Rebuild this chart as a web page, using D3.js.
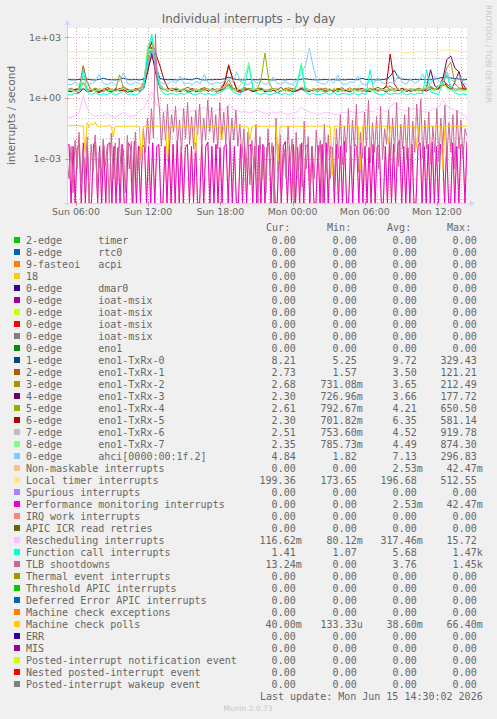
<!DOCTYPE html>
<html><head><meta charset="utf-8">
<script src="https://cdn.jsdelivr.net/npm/d3@7"></script>
<style>
body{margin:0;background:#f0f0f0}
svg{display:block}
text{font-family:"DejaVu Sans",sans-serif;fill:#666}
.mono{font-family:"DejaVu Sans Mono",monospace;font-size:10px;white-space:pre}
</style></head><body><div id="chart"></div>
<script>
// ---------- DATA ----------
const titleText = "Individual interrupts - by day";
const yLabel = "interrupts / second";
const startTime = new Date(2026, 5, 14, 5, 15);
const endTime = new Date(2026, 5, 15, 14, 30);
const yTickValues = [1e3, 1, 1e-3];
const lastUpdate = "Last update: Mon Jun 15 14:30:02 2026";

const legendLabels = [
  "2-edge      timer","8-edge      rtc0","9-fasteoi   acpi","18","0-edge      dmar0",
  "0-edge      ioat-msix","0-edge      ioat-msix","0-edge      ioat-msix","0-edge      ioat-msix","0-edge      eno1",
  "1-edge      eno1-TxRx-0","2-edge      eno1-TxRx-1","3-edge      eno1-TxRx-2","4-edge      eno1-TxRx-3","5-edge      eno1-TxRx-4",
  "6-edge      eno1-TxRx-5","7-edge      eno1-TxRx-6","8-edge      eno1-TxRx-7","0-edge      ahci[0000:00:1f.2]","Non-maskable interrupts",
  "Local timer interrupts","Spurious interrupts","Performance monitoring interrupts","IRQ work interrupts","APIC ICR read retries",
  "Rescheduling interrupts","Function call interrupts","TLB shootdowns","Thermal event interrupts","Threshold APIC interrupts",
  "Deferred Error APIC interrupts","Machine check exceptions","Machine check polls","ERR","MIS",
  "Posted-interrupt notification event","Nested posted-interrupt event","Posted-interrupt wakeup event"];
const legendColors = ["#00CC00","#0066B3","#FF8000","#FFCC00","#330099","#990099","#CCFF00","#FF0000","#808080","#008F00",
  "#00487D","#B35A00","#B38F00","#6B006B","#8FB300","#B30000","#BEBEBE","#80FF80","#80C9FF","#FFC080",
  "#FFE680","#AA80FF","#EE00CC","#FF8080","#666600","#FFBFFF","#00FFCC","#CC6699","#999900","#00CC00",
  "#0066B3","#FF8000","#FFCC00","#330099","#990099","#CCFF00","#FF0000","#808080"];
const curValues = [0,0,0,0,0,0,0,0,0,0,8.21,2.73,2.68,2.30,2.61,2.30,2.51,2.35,4.84,0,199.36,0,0,0,0,0.11662,1.41,0.01324,0,0,0,0,0.04,0,0,0,0,0];
const minValues = [0,0,0,0,0,0,0,0,0,0,5.25,1.57,0.73108,0.72696,0.79267,0.70182,0.75360,0.78573,1.82,0,173.65,0,0,0,0,0.08012,1.07,0,0,0,0,0,0.00013333,0,0,0,0,0];
const avgValues = [0,0,0,0,0,0,0,0,0,0,9.72,3.50,3.65,3.66,4.21,6.35,4.52,4.49,7.13,0.00253,196.68,0,0.00253,0,0,0.31746,5.68,3.76,0,0,0,0,0.0386,0,0,0,0,0];
const maxValues = [0,0,0,0,0,0,0,0,0,0,329.43,121.21,212.49,177.72,650.50,581.14,919.78,874.30,296.83,0.04247,512.55,0,0.04247,0,0,15.72,1470,1450,0,0,0,0,0.0664,0,0,0,0,0];

// series values (evenly spaced over the time range)
const txrx0Values = [8.2,8.0,7.9,8.3,8.1,8.6,8.0,7.8,8.4,9.5,8.2,8.0,7.9,8.3,9.8,8.1,8.0,8.2,7.9,8.5,30,329,40,9.2,8.4,8.0,8.3,7.9,8.1,8.8,8.2,8.0,9.6,8.3,7.8,8.1,8.0,8.4,8.2,9.0,11,9.2,8.1,8.0,7.9,8.3,8.2,8.0,8.1,8.4,8.0,7.8,8.2,8.1,7.9,8.3,8.0,8.2,8.5,9.0,8.3,8.0,7.9,8.1,8.3,8.0,8.2,7.8,8.1,8.0,8.4,8.2,8.0,9.4,8.3,8.1,8.0,7.9,8.2,8.6,12,24,10,8.5,8.2,8.0,8.3,8.1,8.4,8.2,8.0,8.6,9.5,10.5,11,9.8,9.2,8.8,7.9,8.21];
const txrx1Values = [2.5,3.1,2.2,2.8,40,6,2.4,3.0,2.1,2.6,3.3,2.2,2.9,2.4,3.6,2.7,2.2,3.0,2.5,4,30,121,25,4,2.8,2.3,3.1,2.6,2.2,2.9,3.4,2.5,2.1,2.8,3.2,2.4,2.7,2.2,3.0,6,45,8,2.9,2.4,3.3,2.6,2.1,2.8,3.1,2.5,2.3,2.9,2.6,3.4,2.2,2.7,3.0,2.4,2.8,3.2,2.5,2.2,2.9,2.6,3.1,2.3,2.8,2.5,3.3,2.4,2.1,2.9,2.7,3.0,2.5,2.2,2.8,3.4,2.6,3.8,2.4,2.9,2.5,3.1,2.3,2.8,2.6,3.0,2.2,2.7,3.3,2.5,2.9,4,5,3.2,2.6,2.8,3.1,2.73];
const txrx2Values = [2.2,2.9,2.5,3.2,6,2.8,2.3,3.0,2.6,2.1,3.4,2.7,2.4,14,3.0,2.5,2.2,2.8,3.1,5,60,212,30,5,2.6,2.9,2.3,3.2,2.5,2.8,2.2,3.0,2.6,2.4,3.3,2.7,2.1,2.9,2.5,3.6,8,3.2,2.6,2.3,3.0,2.7,2.4,3.1,2.8,2.2,2.6,3.0,2.5,2.3,2.9,3.2,2.6,2.4,3.5,2.7,2.3,2.9,2.5,3.1,2.4,2.8,2.2,3.0,2.6,2.5,3.2,2.3,2.7,2.9,2.4,3.1,2.6,2.2,2.8,3.3,3.8,2.7,2.4,3.0,2.5,2.8,2.3,3.1,2.6,2.9,3.5,2.7,4,6,30,60,5,3.2,2.9,2.68];
const txrx3Values = [2.0,2.6,2.2,1.8,2.9,2.4,2.1,2.7,1.9,2.5,2.3,2.0,2.8,2.2,2.6,1.9,2.4,2.7,2.1,3,20,177,15,3.2,2.5,2.2,2.8,2.0,2.4,2.6,1.9,2.3,2.7,2.1,2.5,2.2,2.8,2.0,2.4,3.0,5,2.6,2.2,1.9,2.5,2.7,2.1,2.3,2.8,2.0,2.4,2.6,1.8,2.2,2.7,2.5,2.0,2.3,2.9,2.4,2.1,2.6,2.2,2.8,2.0,2.4,2.7,2.1,2.5,2.3,2.0,2.6,2.8,2.2,2.4,2.1,2.7,2.3,2.5,2.0,2.6,2.2,2.4,2.9,2.1,2.5,2.3,2.7,2.2,3.5,25,4,3,8,80,120,30,20,5,2.3];
const txrx4Values = [2.4,2.1,2.8,2.5,3,2.2,2.6,2.9,2.3,2.0,2.7,2.4,2.2,2.8,3.5,2.5,2.1,2.6,2.9,4,80,650,20,3.5,2.6,2.3,2.8,2.5,2.1,2.7,2.4,2.9,2.2,2.6,2.3,2.8,2.5,2.0,2.7,3.2,5,3,2.4,2.6,2.2,3,2.8,2.5,8,170,6,2.4,2.8,2.3,2.6,2.2,2.9,2.5,2.7,2.1,2.4,2.8,2.6,2.3,2.0,2.7,2.5,2.9,2.2,2.4,2.6,2.8,2.1,2.5,2.3,2.7,2.4,2.2,2.9,2.6,2.5,2.3,2.8,2.1,2.6,2.4,2.7,2.3,2.5,3.2,4,2.8,2.6,5,3.5,2.9,2.4,2.7,2.5,2.61];
const txrx5Values = [2.3,2.0,2.7,2.4,3,2.1,2.6,2.2,1.8,2.8,2.5,2.1,2.4,2.9,2.2,2.6,2.0,2.5,2.3,6,200,581,150,40,8,3,2.4,2.7,2.1,2.5,2.3,2.8,2.0,2.4,2.6,2.2,2.9,2.3,2.5,5,40,10,2.6,2.2,2.4,2.8,2.1,2.5,2.3,2.7,2.0,2.4,2.6,2.2,2.8,2.1,2.5,2.3,2.9,2.4,2.2,2.6,2.0,2.7,2.3,2.5,2.1,2.8,2.4,2.2,2.6,2.3,2.5,2.9,2.1,2.4,2.7,2.2,2.5,4,150,5,2.6,2.3,2.8,2.1,2.5,2.4,2.7,2.2,2.9,2.6,3,10,4,2.5,6,20,2.8,2.3];
const txrx6Values = [2.5,2.8,2.2,2.6,3.1,2.4,2.7,2.3,2.9,2.5,2.1,2.8,2.4,2.6,3.0,2.3,2.7,2.5,2.2,5,300,919,50,5,2.7,2.4,2.9,2.2,2.6,2.8,2.3,2.5,2.7,2.1,2.9,2.4,2.6,2.3,2.8,3.5,4,2.7,2.4,2.9,2.2,2.6,2.5,2.8,2.3,2.7,2.4,2.6,2.9,2.2,2.5,2.8,2.4,2.6,3.5,2.3,2.7,2.5,2.2,2.9,2.6,2.4,2.8,2.3,2.5,2.7,2.2,2.6,2.9,2.4,2.5,2.8,2.3,2.7,2.4,2.6,3,2.5,2.8,2.2,2.6,2.9,2.4,2.7,2.5,3.2,2.8,2.6,3.5,8,15,4,3,2.7,2.4,2.51];
const txrx7Values = [2.2,2.6,2.0,2.4,5,2.3,2.7,2.1,2.5,2.8,2.2,2.4,2.0,2.6,2.9,2.3,2.5,2.1,2.7,5,400,874,60,4,2.4,2.2,2.7,2.0,2.5,2.3,2.8,2.1,2.6,2.4,2.2,2.9,2.3,2.5,2.0,2.7,3,2.4,2.2,5,12,60,4,2.5,2.3,2.6,2.1,2.8,2.4,2.2,2.6,2.0,2.5,6,55,3,2.3,2.7,2.1,2.4,2.6,2.2,2.8,2.3,2.5,2.0,2.7,2.4,2.2,2.6,2.9,2.3,2.5,2.1,2.7,2.4,2.6,2.2,2.8,2.3,2.5,2.7,2.1,2.4,2.9,3.5,2.6,2.3,4,6,3,2.5,2.7,2.2,2.4,2.35];
const ahciValues = [5,4.5,6,4.2,12,5.5,4.8,6.5,15,5.2,4.6,5.8,4.4,7,18,5,4.7,6.2,4.9,5.5,40,250,30,6,5.1,4.8,7.5,5.3,12,4.9,5.6,4.5,6.8,5.0,15,5.4,4.7,6,5.2,7,9,5.5,20,6.2,5,4.6,8,5.3,6.5,4.8,5.1,11,5.4,4.9,6.3,5,4.7,8.5,16,40,296,30,6,5.2,4.8,9,5.5,14,5.1,4.7,6.2,5.8,12,5.0,4.6,7,5.3,10,5.6,4.9,6,5.2,14,5.8,4.8,9,5.2,6.5,16,5.4,5,12,7,5.5,20,8,6,15,5.2,4.84];
const localTimerValues = [196,198,195,200,199,197,196,198,200,197,199,196,198,197,199,198,197,196,198,200,240,260,215,200,198,197,199,198,196,197,198,200,197,199,198,196,197,199,198,205,218,206,199,197,198,196,198,199,200,197,198,196,197,199,198,196,197,199,210,201,198,197,196,199,198,197,200,198,196,197,199,198,200,197,196,198,197,199,198,196,200,197,199,182,178,184,196,198,197,199,198,196,205,228,245,232,215,208,200,199];
const reschedValues = [.12,.11,.13,.2,1.2,.3,.15,.12,.14,.13,.18,.12,.11,.15,.2,.13,.12,.14,.25,.3,.8,2,.5,.3,.22,.18,.25,.2,.3,.22,.18,.24,.2,.28,.35,.22,.2,.25,.3,.22,.5,.3,.25,.2,.22,.18,.2,.25,.2,.18,.15,.2,.18,.22,.16,.15,.18,.2,.35,.25,.2,.18,.15,.17,.2,.18,.16,.15,.2,.18,.22,.2,.18,.2,.25,.22,.2,.3,.25,.2,.35,.6,.3,.25,.22,.28,.3,.25,.22,.2,.25,.3,.35,.8,.4,.3,.25,.2,.15,.116];
const funcCallValues = [1.5,1.4,1.7,1.6,25,2,1.5,1.8,1.4,1.6,1.5,1.9,1.4,1.7,2.2,1.5,1.6,1.4,1.8,3,200,1470,40,3,1.6,1.5,1.8,1.4,1.7,1.5,1.9,1.6,1.4,1.8,1.5,1.7,1.4,1.6,1.9,2.5,4,2,1.6,1.5,5,40,3,1.7,1.5,1.8,1.4,1.6,1.9,1.5,1.7,1.4,1.8,5,40,2,1.5,1.7,1.4,1.6,1.8,1.5,1.9,1.4,1.7,1.6,1.5,1.8,1.4,1.7,1.5,25,2,1.6,1.4,1.8,1.5,1.7,1.6,1.9,1.4,1.7,1.5,1.8,1.6,25,2,1.7,1.5,6,15,3,1.8,1.5,1.6,1.41];
const perfMonValues = [.004,.005,0,.004,0,.0035,.005,0,.006,0,.004,0,0,.005,.007,0,.004,0,.0045,0,.005,.006,0,.004,0,.0035,0,.005,0,0,.006,.004,0,.007,0,.004,0,.005,.0035,0,.004,0,.006,0,.004,.005,0,0,.004,0,.0045,0,.005,0,.008,0,.004,0,.0035,.005,0,.004,0,.006,0,0,.005,0,.004,.0065,0,.004,0,.005,0,.0035,0,.004,.005,0,.007,0,.004,0,0,.005,0,.006,0,.004,.005,0,.004,0,.0045,0,.005,0,.0035,.006,0,.004,0,0,.005,0,.004,.007,0,.004,0,.005,0,.0035,0,.006,0,.004,.005,0,.004,0,0,.0045,0,.005,0,.006,0,.004,.0035,0,.005,0,.004,0,.007,0,0,.004,0,.005,.004,0,.006,0,.004,0,.0035,0,.005,0,.004,.0045,0,0,.004,0,.006,0,.005,0,.004,.008,0,.004,0,.0035,0,.005,0,0,.004,.006,0,.004,0,.005,0,.0065,0,.004,0,.005,.0035,0,.004,0,0,.006,0,.004,0,.005,.004,0,.007];
const nmiValues = perfMonValues;
const tlbValues = [.001,.0001,.004,.00002,.008,.0003,.02,.00005,.003,.0001,.012,0,.005,.0002,.015,.00003,.002,.0001,.009,.0004,.004,0,.018,.0001,.006,.00005,.01,.0002,.003,.00002,.014,.0003,.007,0,.02,.0001,.004,.0005,.03,
  .002,.1,.005,.3,.01,1450,2,.3,.004,.2,.008,.5,.003,.15,.02,.4,.006,.08,.002,.3,.01,.6,.005,.12,.003,.25,.015,.5,.004,.1,.008,.8,.02,.35,.006,.15,.003,.6,.01,.2,.005,.4,.002,.1,.008,.25,.004,.05,.001,.03,
  .0002,.02,.00005,.008,.0003,.05,0,.012,.0001,.004,.00002,.03,.0004,.006,0,.1,.0002,.015,.00003,.003,.0001,.04,.0005,.009,0,.02,.0001,.005,.00004,.07,.0003,.012,.00002,.004,.0001,.025,.0006,.008,0,.05,.0002,.015,.0001,.003,.00005,.03,
  .001,.15,.0005,.04,.002,.3,.0008,.08,.003,.5,.0002,.02,.001,.2,.004,.8,.0006,.06,.002,.12,.0003,.4,.001,.03,.005,.25,.0008,.1,.002,.6,.0004,.05,.003,.15,.001,.35,.0002,.07,.002,.5,.006,.9,.001,.08,.003,.2,.0005,.04,.002,.3,.0007,.1,.004,.45,.001,.06,.002,.15,.0003,.25,.003,.08,.001,.03,.013];
const mcPollValues = [
  .042,.043,.041,.044,.042,.043,.042,.041,.043,.002,.06,.035,.055,.045,.065,.04,.04,.04,.04,.04,
  .04,.045,.04,.012,.04,.04,.04,.04,.04,.04,.04,.04,.04,.04,.04,.04,.04,.0007,.04,.04,
  .04,.04,.04,.04,.04,.04,.04,.04,.04,.04,.0007,.04,.04,.04,.04,.04,.04,.04,.04,.04,
  .04,.04,.04,.04,.002,.04,.04,.04,.04,.04,.04,.04,.04,.04,.04,.04,.04,.008,.04,.04,
  .04,.04,.04,.04,.04,.04,.04,.04,.04,.04,.04,.008,.04,.04,.04,.04,.04,.04,.04,.04,
  .04,.04,.04,.04,.04,.0007,.04,.04,.04,.04,.04,.04,.04,.04,.04,.04,.04,.04,.03,.04,
  .04,.04,.04,.04,.04,.04,.04,.04,.04,.04,.04,.04,.00016,.04,.04,.04,.04,.04,.04,.04,
  .04,.04,.04,.04,.04,.04,.00027,.04,.04,.04,.04,.04,.04,.04,.04,.04,.04,.04,.04,.04,
  .006,.04,.04,.04,.04,.04,.04,.04,.04,.04,.04,.04,.04,.04,.0034,.04,.04,.04,.04,.04,
  .04,.04,.04,.04,.04,.04,.04,.00027,.04,.04,.04,.04,.04,.04,.04,.04,.04,.04,.04,.04];

// legend index -> values (drawn in legend order; all-zero series omitted)
const seriesValues = {10:txrx0Values,11:txrx1Values,12:txrx2Values,13:txrx3Values,14:txrx4Values,15:txrx5Values,
  16:txrx6Values,17:txrx7Values,18:ahciValues,19:nmiValues,20:localTimerValues,22:perfMonValues,25:reschedValues,
  26:funcCallValues,27:tlbValues,32:mcPollValues};

// ---------- DRAW ----------
const W = 497, H = 719;
const L = 67, R = 467, T = 28, B = 203;
const yMin = Math.pow(10, -5.206), yMax = Math.pow(10, 3.47);
const svg = d3.select("#chart").append("svg").attr("width", W).attr("height", H);
svg.append("rect").attr("width", W).attr("height", H).attr("fill", "#f0f0f0");
svg.append("rect").attr("x", L).attr("y", T).attr("width", R - L).attr("height", B - T).attr("fill", "#fff");

const x = d3.scaleTime().domain([startTime, endTime]).range([L, R]);
const y = d3.scaleLog().domain([yMin, yMax]).range([B, T]).clamp(true);

const gridColor = "rgba(140,140,140,0.55)", mgridColor = "rgba(200,80,80,0.55)";
// horizontal grid
const decades = d3.range(-5, 4).map(e => Math.pow(10, e));
svg.append("g").selectAll("line").data(decades).join("line")
  .attr("x1", L).attr("x2", R).attr("y1", d => Math.round(y(d)) + 0.5).attr("y2", d => Math.round(y(d)) + 0.5)
  .attr("stroke", d => yTickValues.includes(d) ? mgridColor : gridColor)
  .attr("stroke-dasharray", "1,2");
// vertical grid
const hours = d3.timeHour.every(1).range(startTime, endTime);
svg.append("g").selectAll("line").data(hours).join("line")
  .attr("x1", d => Math.round(x(d)) + 0.5).attr("x2", d => Math.round(x(d)) + 0.5).attr("y1", T).attr("y2", B)
  .attr("stroke", d => d.getHours() % 6 === 0 ? mgridColor : gridColor)
  .attr("stroke-dasharray", "1,2");

// lines
const clip = svg.append("clipPath").attr("id", "plotclip").append("rect").attr("x", L).attr("y", T).attr("width", R - L).attr("height", B - T);
const lineGen = d3.line().x(d => x(d.t)).y(d => y(Math.max(d.v, yMin)));
const plotG = svg.append("g").attr("clip-path", "url(#plotclip)");
Object.keys(seriesValues).map(Number).sort((a, b) => a - b).forEach(idx => {
  const vals = seriesValues[idx];
  const n = vals.length;
  const pts = vals.map((v, i) => ({t: new Date(+startTime + i * (endTime - startTime) / (n - 1)), v}));
  plotG.append("path").datum(pts).attr("d", lineGen).attr("fill", "none")
    .attr("stroke", legendColors[idx]).attr("stroke-width", 1).attr("stroke-linejoin", "round");
});

// axes
const axisColor = "#CFD6F8";
svg.append("line").attr("x1", L + 0.5).attr("x2", L + 0.5).attr("y1", B + 3).attr("y2", T - 4).attr("stroke", axisColor);
svg.append("line").attr("x1", L - 3).attr("x2", R + 4).attr("y1", B + 0.5).attr("y2", B + 0.5).attr("stroke", axisColor);
svg.append("path").attr("d", `M${L - 2.5},${T - 3} L${L + 3.5},${T - 3} L${L + 0.5},${T - 8} Z`).attr("fill", axisColor);
svg.append("path").attr("d", `M${R + 3},${B - 2.5} L${R + 3},${B + 3.5} L${R + 8},${B + 0.5} Z`).attr("fill", axisColor);
// major ticks
svg.append("g").selectAll("line").data(yTickValues).join("line")
  .attr("x1", L - 2).attr("x2", L + 2).attr("y1", d => Math.round(y(d)) + 0.5).attr("y2", d => Math.round(y(d)) + 0.5)
  .attr("stroke", mgridColor);
const majorHours = d3.timeHour.every(6).range(startTime, endTime);
svg.append("g").selectAll("line").data(majorHours).join("line")
  .attr("x1", d => Math.round(x(d)) + 0.5).attr("x2", d => Math.round(x(d)) + 0.5).attr("y1", B - 2).attr("y2", B + 3)
  .attr("stroke", mgridColor);

// tick labels
const fmtExp = d => d.toExponential(0).replace(/e([+-])(\d)$/, "e$10$2");
svg.append("g").selectAll("text").data(yTickValues).join("text")
  .attr("x", 61).attr("y", d => y(d) + 3.5).attr("text-anchor", "end").attr("font-size", "9.5px").text(fmtExp);
const fmtTime = d3.timeFormat("%a %H:%M");
svg.append("g").selectAll("text").data(majorHours).join("text")
  .attr("x", d => x(d)).attr("y", 215).attr("text-anchor", "middle").attr("font-size", "9.4px").text(fmtTime);

// title & labels
svg.append("text").attr("x", 248.5).attr("y", 23).attr("text-anchor", "middle").attr("font-size", "12px").text(titleText);
svg.append("text").attr("transform", "translate(14.5,115.5) rotate(-90)").attr("text-anchor", "middle").attr("font-size", "10.5px").text(yLabel);
svg.append("text").attr("transform", "translate(486,5) rotate(90)").attr("text-anchor", "start").attr("font-size", "7.6px")
  .style("fill", "#c8c8c8").text("RRDTOOL / TOBI OETIKER");

// legend
const fmtSI = v => {
  if (v === 0) return "0.00 ";
  const units = [[1e3, "k"], [1, " "], [1e-3, "m"], [1e-6, "u"]];
  for (const [s, u] of units) if (Math.abs(v) >= s) return (v / s).toFixed(2) + u;
  return (v / 1e-6).toFixed(2) + "u";
};
const colRight = [295.7, 356.7, 416.7, 476.7];
const cw = 6.02;
const headers = ["Cur:", "Min:", "Avg:", "Max:"];
svg.append("g").selectAll("text").data(headers).join("text").attr("class", "mono")
  .attr("x", (d, i) => colRight[i] - cw + 0.5).attr("y", 230.5).attr("text-anchor", "end").text(d => d);
const rowY = i => 240 + i * 12;
const lg = svg.append("g");
legendLabels.forEach((lab, i) => {
  lg.append("rect").attr("x", 14).attr("y", rowY(i) - 3).attr("width", 6).attr("height", 6).attr("fill", legendColors[i]);
  lg.append("text").attr("class", "mono").attr("x", 26).attr("y", rowY(i) + 3.5).text(lab);
  [curValues, minValues, avgValues, maxValues].forEach((arr, c) => {
    lg.append("text").attr("class", "mono").attr("x", colRight[c] + cw).attr("y", rowY(i) + 3.5)
      .attr("text-anchor", "end").text(fmtSI(arr[i]));
  });
});
svg.append("text").attr("class", "mono").attr("x", 482.7).attr("y", 699.5).attr("text-anchor", "end").text(lastUpdate);
svg.append("text").attr("x", 248).attr("y", 711).attr("text-anchor", "middle").attr("font-size", "7.5px").style("fill", "#c8c8c8").text("Munin 2.0.73");
</script></body></html>
